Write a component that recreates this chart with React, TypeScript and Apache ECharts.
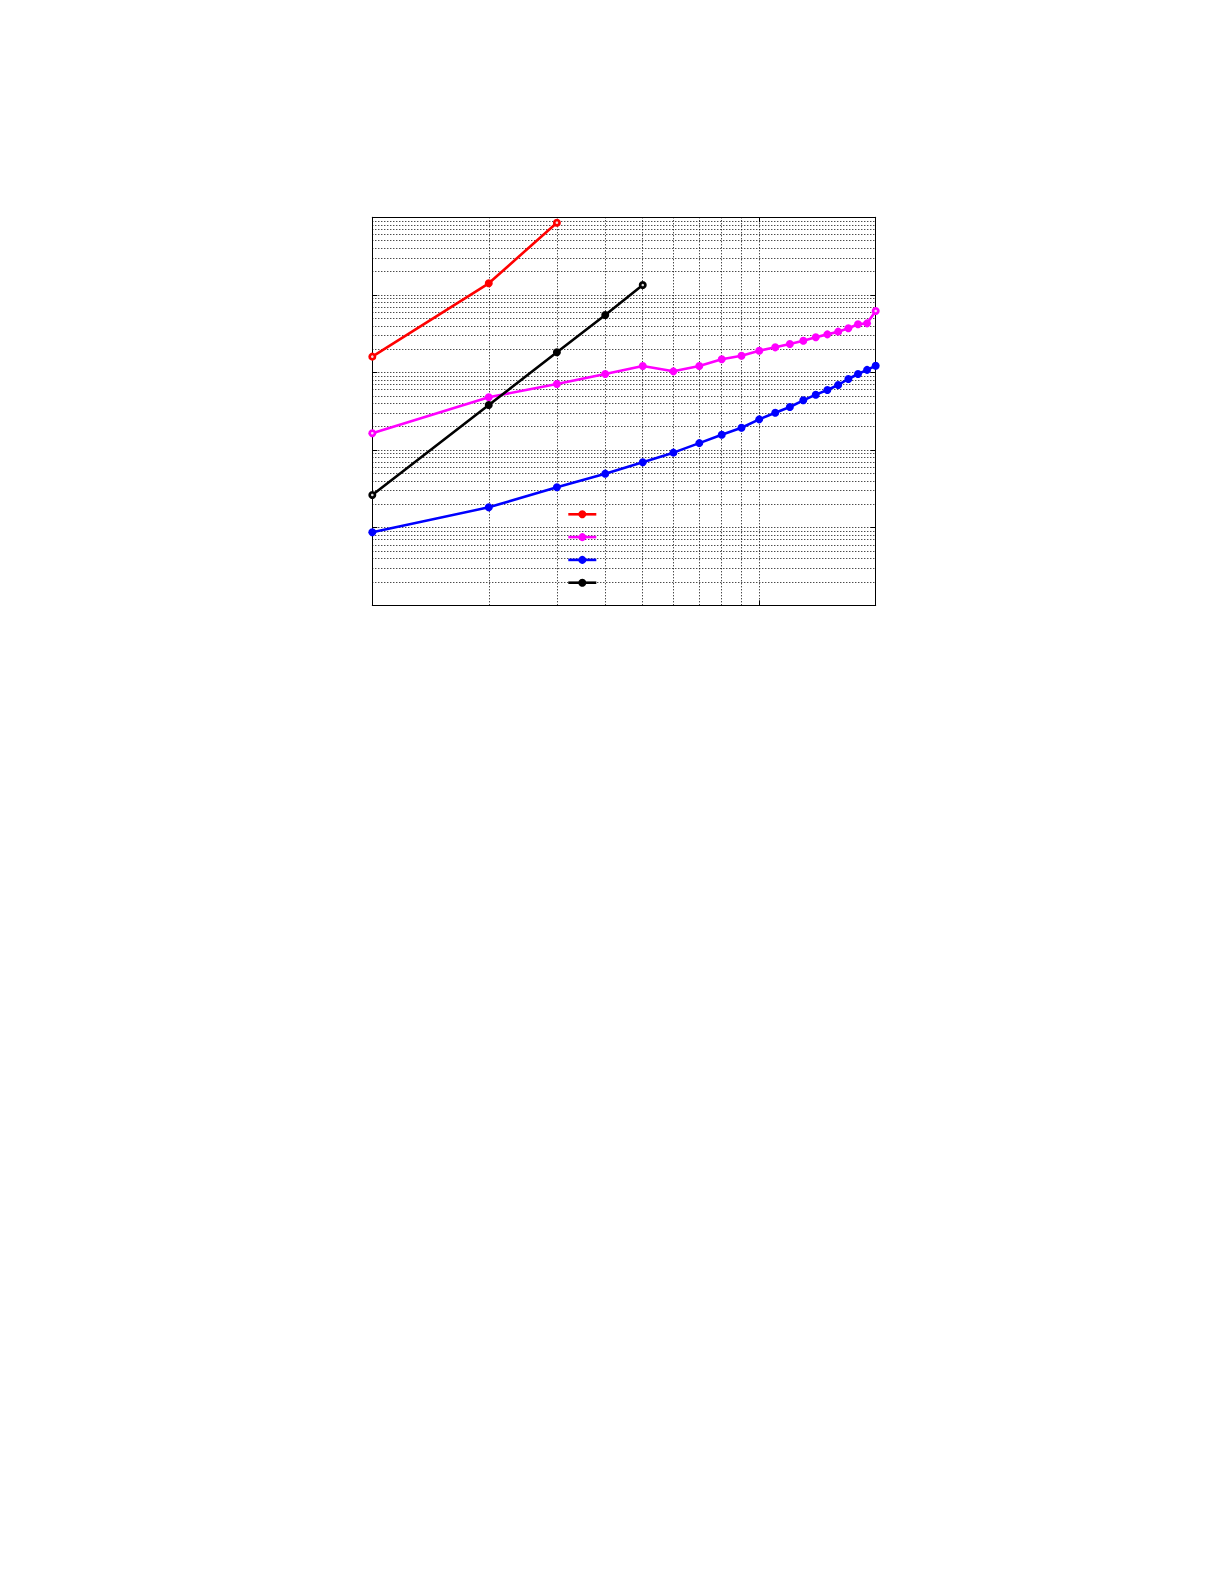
import React, { useEffect, useRef } from "react";
import * as echarts from "echarts";

const xValues = [1, 2, 3, 4, 5, 6, 7, 8, 9, 10, 11, 12, 13, 14, 15, 16, 17, 18, 19, 20];
const seriesNames = ["Series A", "Series B", "Series C", "Series D"];
const seriesColors = ["#ff0000", "#ff00ff", "#0000ff", "#000000"];
const redValues = [16.0, 141, 852];
const magentaValues = [1.65, 4.79, 7.11, 9.57, 12.1, 10.35, 12.1, 14.8, 16.4, 19.1, 21.1, 23.3, 25.7, 28.4, 31.0, 33.6, 37.1, 41.8, 43.0, 62.1];
const blueValues = [0.0873, 0.183, 0.332, 0.497, 0.697, 0.927, 1.23, 1.58, 1.94, 2.49, 3.03, 3.59, 4.38, 5.18, 5.95, 6.9, 8.25, 9.57, 10.8, 12.2];
const blackValues = [0.264, 3.81, 18.2, 55.1, 134];
const xMin = 1;
const xMax = 20;
const yMin = 0.01;
const yMax = 1000;
const yDecades = [0.01, 0.1, 1, 10, 100];
const gridMultipliers = [1, 2, 3, 4, 5, 6, 7, 8, 9];
const xGridValues = [2, 3, 4, 5, 6, 7, 8, 9, 10];

function buildSeries(name: string, color: string, values: number[]) {
  return {
    name,
    type: "line",
    data: values.map((v, i) => [xValues[i], v]),
    symbol: "circle",
    symbolSize: 8,
    showSymbol: true,
    lineStyle: { color, width: 2.6 },
    itemStyle: { color },
    z: 3,
  };
}

function endDots(values: number[]) {
  const last = values.length - 1;
  return {
    type: "scatter",
    silent: true,
    data: [
      [xValues[0], values[0]],
      [xValues[last], values[last]],
    ],
    symbol: "circle",
    symbolSize: 2.6,
    itemStyle: { color: "#f4f4f4", opacity: 0.9 },
    z: 4,
  };
}

export default function App() {
  const ref = useRef<HTMLDivElement>(null);
  useEffect(() => {
    if (!ref.current) return;
    const chart = echarts.init(ref.current, undefined, { renderer: "svg" });
    const yGrid: number[] = [];
    yDecades.forEach((d) => {
      gridMultipliers.forEach((m) => {
        const v = d * m;
        if (v > yMin * 1.001 && v < yMax * 0.999) yGrid.push(v);
      });
    });
    const gridStyle = { color: "#000", width: 1, type: [1, 2] as any };
    const gridLines: any[] = [
      ...xGridValues.map((v) => ({ xAxis: v })),
      ...yGrid.map((v) => ({ yAxis: v })),
    ];
    const axisCommon = {
      type: "log",
      logBase: 10,
      axisLabel: { show: false },
      splitLine: { show: false },
      axisLine: { show: true, lineStyle: { color: "#000", width: 1 } },
      axisTick: { show: true, inside: true, length: 5, lineStyle: { color: "#000" } },
    };
    chart.setOption({
      animation: false,
      backgroundColor: "#fff",
      grid: {
        left: 372.3,
        top: 217.3,
        width: 503.4,
        height: 388,
        show: false,
      },
      legend: {
        data: seriesNames,
        orient: "vertical",
        left: 562,
        top: 504.3,
        itemWidth: 28,
        itemHeight: 10,
        itemGap: 13.8,
        formatter: () => "",
        textStyle: { fontSize: 1 },
        lineStyle: { width: 2.6 },
        selectedMode: false,
      },
      xAxis: [
        { ...axisCommon, position: "bottom", min: xMin, max: xMax },
        { ...axisCommon, position: "top", min: xMin, max: xMax },
      ],
      yAxis: [
        { ...axisCommon, position: "left", min: yMin, max: yMax },
        { ...axisCommon, position: "right", min: yMin, max: yMax },
      ],
      series: [
        {
          name: "grid",
          type: "line",
          data: [],
          silent: true,
          markLine: {
            silent: true,
            z: 1,
            symbol: ["none", "none"],
            label: { show: false },
            lineStyle: gridStyle,
            emphasis: { disabled: true },
            data: gridLines,
          },
        },
        buildSeries(seriesNames[0], seriesColors[0], redValues),
        buildSeries(seriesNames[1], seriesColors[1], magentaValues),
        buildSeries(seriesNames[2], seriesColors[2], blueValues),
        buildSeries(seriesNames[3], seriesColors[3], blackValues),
        endDots(redValues),
        endDots(magentaValues),
        endDots(blackValues),
      ],
    });
    return () => chart.dispose();
  }, []);
  return (
    <div
      ref={ref}
      style={{ position: "fixed", left: 0, top: 0, width: 1225, height: 1585, background: "#fff" }}
    />
  );
}
